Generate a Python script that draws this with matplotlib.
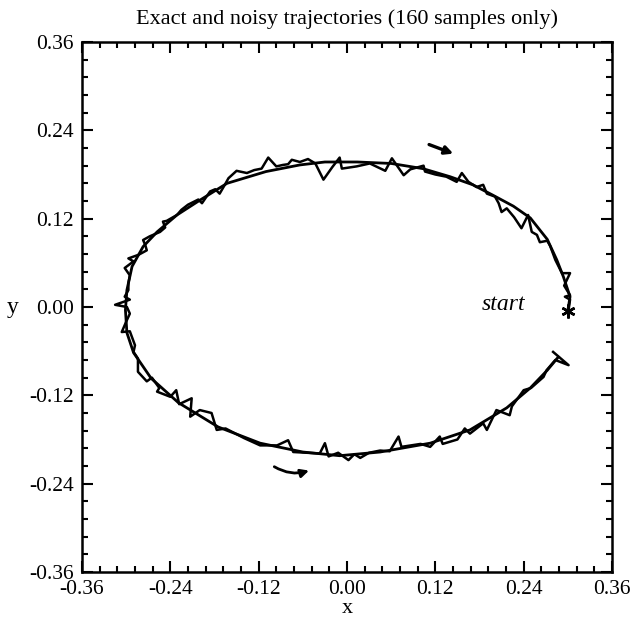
import matplotlib
matplotlib.use('Agg')
import matplotlib.pyplot as plt
from matplotlib.ticker import MultipleLocator

plt.rcParams['font.family'] = ['Liberation Serif', 'DejaVu Serif']
plt.rcParams['axes.unicode_minus'] = False

# exact trajectory (counter-clockwise from start)
exact_x = [0.300, 0.303, 0.294, 0.285, 0.272, 0.249, 0.226, 0.198, 0.171, 0.140,
           0.103, 0.060, 0.014, -0.030, -0.064, -0.110, -0.163, -0.200, -0.231, -0.258,
           -0.277, -0.292, -0.299, -0.301, -0.299, -0.290, -0.266, -0.229, -0.175, -0.118,
           -0.060, -0.010, 0.045, 0.113, 0.167, 0.217, 0.249, 0.272, 0.287]
exact_y = [-0.005, 0.014, 0.041, 0.064, 0.092, 0.121, 0.137, 0.152, 0.166, 0.177,
           0.188, 0.195, 0.197, 0.197, 0.193, 0.184, 0.168, 0.145, 0.125, 0.102,
           0.082, 0.055, 0.023, -0.004, -0.035, -0.062, -0.097, -0.130, -0.163, -0.185,
           -0.197, -0.202, -0.197, -0.185, -0.167, -0.137, -0.110, -0.086, -0.068]

# noisy trajectory (160 samples)
noisy_x = [0.301, 0.303, 0.296, 0.303, 0.295, 0.303, 0.292, 0.283, 0.276, 0.272,
           0.262, 0.258, 0.251, 0.246, 0.237, 0.227, 0.217, 0.210, 0.206, 0.201,
           0.190, 0.185, 0.176, 0.165, 0.156, 0.149, 0.135, 0.120, 0.106, 0.104,
           0.086, 0.077, 0.061, 0.052, 0.031, 0.013, -0.007, -0.010, -0.020, -0.032,
           -0.043, -0.053, -0.064, -0.075, -0.080, -0.087, -0.096, -0.107, -0.116, -0.126,
           -0.136, -0.150, -0.161, -0.166, -0.173, -0.179, -0.186, -0.197, -0.202, -0.216,
           -0.225, -0.231, -0.245, -0.250, -0.247, -0.254, -0.268, -0.277, -0.274, -0.272,
           -0.283, -0.297, -0.290, -0.302, -0.295, -0.297, -0.297, -0.302, -0.295, -0.315,
           -0.299, -0.295, -0.300, -0.306, -0.295, -0.288, -0.290, -0.284, -0.284, -0.272,
           -0.265, -0.255, -0.258, -0.240, -0.232, -0.228, -0.211, -0.213, -0.200, -0.184,
           -0.177, -0.165, -0.140, -0.118, -0.095, -0.080, -0.073, -0.055, -0.037, -0.030,
           -0.025, -0.012, -0.005, 0.002, 0.010, 0.018, 0.030, 0.045, 0.058, 0.070,
           0.074, 0.100, 0.113, 0.126, 0.130, 0.150, 0.160, 0.167, 0.185, 0.190,
           0.203, 0.221, 0.224, 0.240, 0.250, 0.267, 0.271, 0.283, 0.301, 0.280]
noisy_y = [-0.004, 0.010, 0.014, 0.016, 0.029, 0.046, 0.046, 0.064, 0.083, 0.090,
           0.088, 0.098, 0.102, 0.125, 0.107, 0.122, 0.134, 0.129, 0.141, 0.150,
           0.154, 0.166, 0.163, 0.170, 0.182, 0.170, 0.177, 0.180, 0.184, 0.192,
           0.187, 0.179, 0.202, 0.185, 0.195, 0.191, 0.188, 0.203, 0.190, 0.173,
           0.195, 0.201, 0.197, 0.200, 0.194, 0.193, 0.191, 0.203, 0.188, 0.186,
           0.182, 0.185, 0.175, 0.166, 0.154, 0.160, 0.157, 0.141, 0.146, 0.139,
           0.132, 0.125, 0.117, 0.116, 0.108, 0.102, 0.096, 0.091, 0.084, 0.077,
           0.071, 0.066, 0.062, 0.053, 0.043, 0.032, 0.023, 0.014, 0.010, 0.003,
           0.000, -0.009, -0.020, -0.034, -0.033, -0.052, -0.061, -0.070, -0.088, -0.101,
           -0.096, -0.110, -0.115, -0.122, -0.113, -0.132, -0.124, -0.149, -0.140, -0.144,
           -0.167, -0.165, -0.178, -0.188, -0.188, -0.181, -0.197, -0.198, -0.199, -0.185,
           -0.203, -0.198, -0.203, -0.208, -0.200, -0.205, -0.198, -0.195, -0.196, -0.176,
           -0.190, -0.186, -0.190, -0.176, -0.186, -0.180, -0.165, -0.172, -0.158, -0.167,
           -0.140, -0.147, -0.135, -0.113, -0.110, -0.095, -0.086, -0.072, -0.079, -0.061]

start_xy = (0.300, -0.005)
arrow_top = [(0.108, 0.222), (0.148, 0.207)]
arrow_bottom = [(-0.102, -0.215), (-0.048, -0.221)]

fig = plt.figure(figsize=(6.32, 6.21), dpi=100)
ax = fig.add_axes([82 / 632, 49 / 621, 530 / 632, 530 / 621])

ax.plot(exact_x, exact_y, color='black', lw=2.0)
ax.plot(noisy_x, noisy_y, color='black', lw=1.8)
ax.plot(*start_xy, marker=(6, 2, 0), color='black', ms=10, mew=1.8)

ax.annotate('', xy=arrow_top[1], xytext=arrow_top[0],
            arrowprops=dict(arrowstyle='-|>', lw=2.4, color='black', mutation_scale=12))
ax.annotate('', xy=arrow_bottom[1], xytext=arrow_bottom[0],
            arrowprops=dict(arrowstyle='-|>', lw=2.0, color='black', mutation_scale=12,
                            connectionstyle='arc3,rad=0.25'))

ax.text(0.212, 0.003, 'start', fontsize=17, style='italic', ha='center', va='center')

ax.set_xlim(-0.36, 0.36)
ax.set_ylim(-0.36, 0.36)
ax.xaxis.set_major_locator(MultipleLocator(0.12))
ax.yaxis.set_major_locator(MultipleLocator(0.12))
ax.xaxis.set_minor_locator(MultipleLocator(0.024))
ax.yaxis.set_minor_locator(MultipleLocator(0.024))
ax.xaxis.set_major_formatter(lambda v, p: f'{v:.2f}')
ax.yaxis.set_major_formatter(lambda v, p: f'{v:.2f}')
ax.tick_params(which='both', direction='in', top=True, right=True, width=1.5,
               labelsize=15.5)
ax.tick_params(axis='x', which='both', pad=6)
ax.tick_params(axis='y', which='both', pad=6)
ax.tick_params(which='major', length=8)
ax.tick_params(which='minor', length=4.5)
for s in ax.spines.values():
    s.set_linewidth(1.8)

ax.set_title('Exact and noisy trajectories (160 samples only)', fontsize=16, pad=13)
ax.set_xlabel('x', fontsize=16)
ax.xaxis.set_label_coords(0.5, -0.069)
ax.xaxis.label.set_va('center')
ax.set_ylabel('y', fontsize=17, rotation=0, va='center')
ax.yaxis.set_label_coords(-0.13, 0.5)

fig.savefig('out.png', dpi=100)
